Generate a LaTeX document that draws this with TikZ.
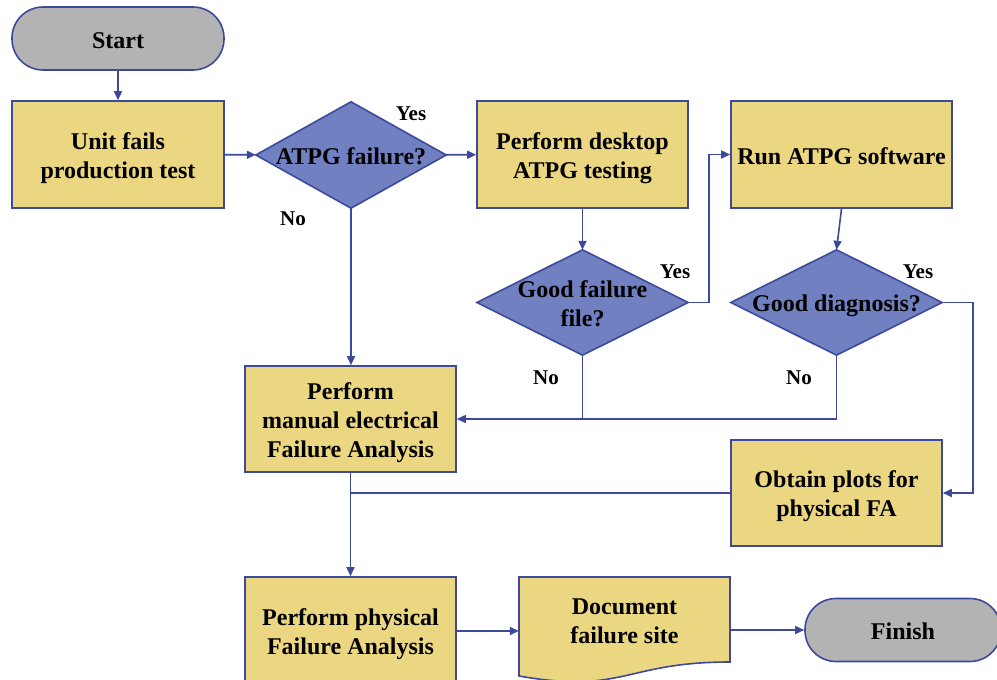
\documentclass[tikz,border=0pt]{standalone}
\usepackage{fontspec}
\setmainfont{Liberation Serif}
\usetikzlibrary{arrows.meta,backgrounds}
\definecolor{bord}{HTML}{3D4A9C}
\definecolor{boxy}{HTML}{EBD681}
\definecolor{diab}{HTML}{7080C0}
\definecolor{grayb}{HTML}{B3B3B3}
\newcommand\tstr{\rule{0pt}{24pt}}
\newcommand\bstr{\rule[-5pt]{0pt}{5pt}}
\begin{document}
\begin{tikzpicture}[x=1pt,y=-1pt,
  txt/.style={font=\fontsize{24}{29}\selectfont\bfseries, align=center, text=black},
  box/.style={txt, draw=bord, fill=boxy, line width=1.6pt, minimum width=211pt, minimum height=107pt, inner sep=0pt},
  term/.style={txt, draw=bord, fill=grayb, line width=1.6pt, rounded corners=31pt, minimum height=63pt, inner sep=0pt},
  ghost/.style={txt, inner sep=0pt},
  diashape/.style={draw=bord, fill=diab, line width=1.6pt, line join=miter},
  docshape/.style={draw=bord, fill=boxy, line width=1.6pt},
  conn/.style={draw=bord, line width=1.6pt},
  arr/.style={conn, -{Triangle[length=9pt,width=8pt]}},
  lbl/.style={font=\fontsize{21}{24}\selectfont\bfseries, text=black, inner sep=0pt}
]
\useasboundingbox (0,0) rectangle (997,680);
\clip (0,0) rectangle (997,680);

% nodes
\node[term, minimum width=212pt] (start) at (118,38.5) {\tstr Start\bstr};
\node[box, minimum width=212pt] (unit) at (118,154.5) {\tstr Unit fails\\production test\bstr};
\node[ghost, minimum width=190pt, minimum height=106pt] (d1) at (351,155) {\tstr ATPG failure?\bstr};
\node[box] (desk) at (582.5,154.5) {\tstr Perform desktop\\ATPG testing\bstr};
\node[box, minimum width=221pt] (run) at (841.5,154.5) {\tstr Run ATPG software\bstr};
\node[ghost, minimum width=211pt, minimum height=105pt] (d2) at (582.5,302.5) {\tstr Good failure\\file?\bstr};
\node[ghost, minimum width=211pt, minimum height=105pt] (d3) at (836.5,302.5) {\tstr Good diagnosis?\bstr};
\node[box, minimum height=106pt] (man) at (350.5,419) {\tstr Perform\\manual electrical\\Failure Analysis\bstr};
\node[box, minimum height=106pt] (plots) at (836.5,493) {\tstr Obtain plots for\\physical FA\bstr};
\node[box, minimum height=108pt] (phys) at (350.5,631) {\tstr Perform physical\\Failure Analysis\bstr};
\node[ghost, minimum width=211pt, minimum height=86pt] (doc) at (624.5,619) {\tstr Document\\failure site\bstr};
\node[term, minimum width=196pt] (fin) at (903,630) {\tstr Finish\bstr};

% shapes behind text
\begin{scope}[on background layer]
  \fill[white] (0,0) rectangle (997,680);
  \draw[diashape] (d1.west) -- (d1.north) -- (d1.east) -- (d1.south) -- cycle;
  \draw[diashape] (d2.west) -- (d2.north) -- (d2.east) -- (d2.south) -- cycle;
  \draw[diashape] (d3.west) -- (d3.north) -- (d3.east) -- (d3.south) -- cycle;
  \draw[docshape] (519,577) -- (730,577) -- (730,662)
     .. controls (624.5,662) and (624.5,694.4) .. (519,676) -- cycle;
\end{scope}

% labels
\node[lbl] (yes1) at (411,114) {Yes};
\node[lbl] (no1) at (293,219) {No};
\node[lbl] (yes2) at (675,272) {Yes};
\node[lbl] (no2) at (546,378) {No};
\node[lbl] (yes3) at (918,272) {Yes};
\node[lbl] (no3) at (799,378) {No};

% connectors
\draw[arr] (start) -- (unit);
\draw[arr] (unit) -- (d1);
\draw[arr] (d1) -- (desk);
\draw[arr] (d1.south) -- (d1.south |- man.north);
\draw[arr] (desk.south) -- (d2.north);
\draw[arr] (d2.east) -- ++(21,0) |- (run.west);
\draw[arr] (d2.south) |- (man.east);
\draw[arr] (run.south) -- (d3.north);
\draw[arr] (d3.east) -- ++(31,0) |- (plots.east);
\draw[conn] (d3.south) |- (d2.south |- man.east);
\draw[arr] (man.south) -- (phys.north);
\draw[conn] (plots.west) -- (plots.west -| man.south);
\draw[arr] (phys.east) -- (phys.east -| doc.west);
\draw[arr] (fin.west -| doc.east) -- (fin.west);
\end{tikzpicture}
\end{document}
